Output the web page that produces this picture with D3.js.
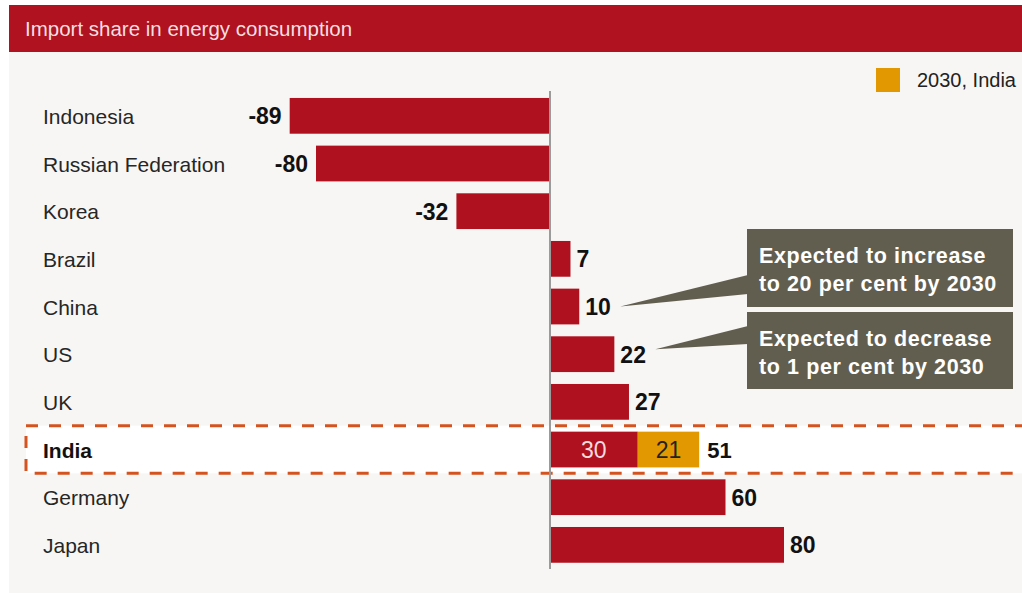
<!DOCTYPE html>
<html>
<head>
<meta charset="utf-8">
<script src="https://cdn.jsdelivr.net/npm/d3@7"></script>
<style>
  html, body { margin: 0; padding: 0; background: #ffffff; }
  svg { display: block; }
  text { font-family: "Liberation Sans", Arial, Helvetica, sans-serif; }
</style>
</head>
<body>
<svg id="chart" width="1022" height="593"></svg>
<script>
// ---- data ----
const title = "Import share in energy consumption";
const countries = ["Indonesia", "Russian Federation", "Korea", "Brazil", "China", "US", "UK", "India", "Germany", "Japan"];
const values = [-89, -80, -32, 7, 10, 22, 27, 30, 60, 80];
const india2030Extra = 21;     // added for 2030, India
const india2030Total = 51;
const highlight = "India";
const legendLabel = "2030, India";
const callouts = [
  { country: "China", lines: ["Expected to increase", "to 20 per cent by 2030"] },
  { country: "US", lines: ["Expected to decrease", "to 1 per cent by 2030"] }
];

// ---- styles ----
const RED = "#b0111e", ORANGE = "#e29800", PANEL = "#f7f6f4", BOX = "#625e4f", DASH = "#d4531f";

const svg = d3.select("#chart");

// background panel and header
svg.append("rect").attr("x", 9).attr("y", 52).attr("width", 1013).attr("height", 541).attr("fill", PANEL);
svg.append("rect").attr("x", 9).attr("y", 5).attr("width", 1013).attr("height", 47).attr("fill", "#b0121f");
svg.append("text").attr("x", 25).attr("y", 36).attr("font-size", 20.5)
  .attr("fill", "#f5dfe1").text(title);

// scales
const x = d3.scaleLinear().domain([-100, 100]).range([257.5, 842.5]);
const y = d3.scaleBand().domain(countries).range([92, 568.7]).paddingInner(0.25).paddingOuter(0.125);

// highlight dashed row
const hy = y(highlight) - y.step() * y.paddingInner() / 2;
svg.append("rect").attr("x", 26).attr("y", hy).attr("width", 1010).attr("height", y.step())
  .attr("fill", "#ffffff").attr("stroke", DASH).attr("stroke-width", 3)
  .attr("stroke-dasharray", "12,11");

const data = countries.map((c, i) => ({ c, v: values[i] }));

// bars
svg.append("g").selectAll("rect").data(data).join("rect")
  .attr("x", d => d.v < 0 ? x(d.v) : x(0) + 1)
  .attr("y", d => y(d.c))
  .attr("width", d => Math.abs(x(d.v) - x(0)) - (d.v < 0 ? 0 : 1))
  .attr("height", y.bandwidth())
  .attr("fill", RED);

// India 2030 extra segment
svg.append("rect")
  .attr("x", x(values[countries.indexOf(highlight)]))
  .attr("y", y(highlight))
  .attr("width", x(india2030Total) - x(values[countries.indexOf(highlight)]))
  .attr("height", y.bandwidth())
  .attr("fill", ORANGE);

// axis line at zero
svg.append("line").attr("x1", x(0)).attr("x2", x(0)).attr("y1", 91).attr("y2", 569)
  .attr("stroke", "#9b9b9b").attr("stroke-width", 2);

// country labels
svg.append("g").selectAll("text").data(data).join("text")
  .attr("x", 43)
  .attr("y", d => y(d.c) + y.bandwidth() / 2 + 8)
  .attr("font-size", 21)
  .attr("font-weight", d => d.c === highlight ? "bold" : "normal")
  .attr("fill", d => d.c === highlight ? "#111" : "#262626")
  .text(d => d.c);

// value labels
svg.append("g").selectAll("text").data(data.filter(d => d.c !== highlight)).join("text")
  .attr("x", d => d.v < 0 ? x(d.v) - 8 : x(d.v) + 6)
  .attr("y", d => y(d.c) + y.bandwidth() / 2 + 8.5)
  .attr("text-anchor", d => d.v < 0 ? "end" : "start")
  .attr("font-size", 23).attr("font-weight", "bold").attr("fill", "#111")
  .text(d => d.v);

// India labels
const iv = values[countries.indexOf(highlight)];
const iyc = y(highlight) + y.bandwidth() / 2 + 8.5;
svg.append("text").attr("x", (x(0) + x(iv)) / 2).attr("y", iyc).attr("text-anchor", "middle")
  .attr("font-size", 23).attr("fill", "#f6dcde").text(iv);
svg.append("text").attr("x", (x(iv) + x(india2030Total)) / 2).attr("y", iyc).attr("text-anchor", "middle")
  .attr("font-size", 23).attr("fill", "#222").text(india2030Extra);
svg.append("text").attr("x", x(india2030Total) + 8).attr("y", iyc)
  .attr("font-size", 22).attr("font-weight", "bold").attr("fill", "#111").text(india2030Total);

// legend
svg.append("rect").attr("x", 876).attr("y", 68).attr("width", 24).attr("height", 24).attr("fill", ORANGE);
svg.append("text").attr("x", 917).attr("y", 87).attr("font-size", 20).attr("fill", "#222").text(legendLabel);

// callouts
const boxes = [
  { top: 229, height: 78, tipDx: 11, tipDy: 0, baseTop: 46, baseBot: 65 },
  { top: 312, height: 77, tipDx: 11, tipDy: -5, baseTop: 14, baseBot: 32 }
];
callouts.forEach((co, i) => {
  const b = boxes[i];
  const v = values[countries.indexOf(co.country)];
  const tipX = x(v) + 6 + 24 + b.tipDx;
  const tipY = y(co.country) + y.bandwidth() / 2 + b.tipDy;
  const bx = 747, bw = 266;
  svg.append("polygon")
    .attr("points", [[tipX, tipY], [bx + 1, b.top + b.baseTop], [bx + 1, b.top + b.baseBot]].map(p => p.join(",")).join(" "))
    .attr("fill", BOX);
  svg.append("rect").attr("x", bx).attr("y", b.top).attr("width", bw).attr("height", b.height).attr("fill", BOX);
  co.lines.forEach((ln, j) => {
    svg.append("text").attr("x", bx + 12).attr("y", b.top + 33.5 + j * 28)
      .attr("font-size", 21.5).attr("font-weight", "bold").attr("letter-spacing", 0.6)
      .attr("fill", "#ffffff").text(ln);
  });
});
</script>
</body>
</html>
